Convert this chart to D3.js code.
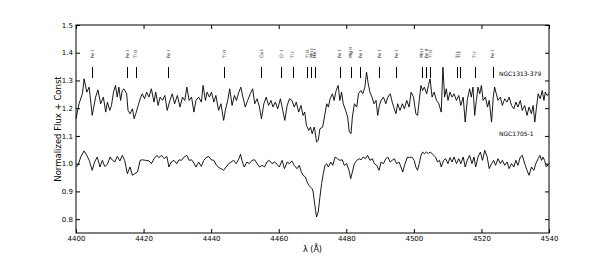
<!DOCTYPE html>
<html>
<head>
<meta charset="utf-8">
<script src="https://cdn.jsdelivr.net/npm/d3@7"></script>
<style>
  body { margin: 0; background: #fff; }
  svg text { font-family: "DejaVu Sans", sans-serif; fill: #000; }
</style>
</head>
<body>
<div class="chart"></div>
<script>
var svgWidth = 610;
var svgHeight = 259;
var margin = { top: 25, right: 61, bottom: 26, left: 76 };
var chartWidth = svgWidth - margin.left - margin.right;
var chartHeight = svgHeight - margin.top - margin.bottom;

// NGC1313-379 (upper spectrum)
var waveTop = [4400.0,4400.9,4401.9,4402.4,4403.2,4403.9,4404.8,4405.8,4406.5,4407.3,4408.1,4408.8,4409.3,4410.0,4410.5,4411.1,4411.7,4412.2,4412.7,4413.2,4413.7,4414.2,4415.0,4415.4,4416.0,4416.7,4417.2,4417.7,4418.4,4419.0,4419.6,4420.3,4420.9,4421.6,4422.3,4423.1,4423.6,4424.3,4424.9,4425.6,4426.3,4427.0,4427.8,4428.5,4429.2,4430.0,4430.8,4431.5,4432.2,4432.8,4433.5,4434.2,4434.9,4435.5,
  4436.3,4437.1,4437.6,4438.3,4438.8,4439.5,4440.1,4440.8,4441.4,4442.2,4442.9,4443.7,4444.2,4444.9,4445.5,4446.2,4446.9,4447.5,4448.2,4448.8,4449.4,4450.1,4450.8,4451.6,4452.3,4452.9,4453.6,4454.3,4454.9,4455.6,4456.3,4457.0,4457.7,4458.3,4459.0,4459.7,4460.5,4461.2,4461.8,4462.5,4463.2,4463.9,4464.6,4465.2,4465.9,4466.6,4467.2,4467.7,4468.2,4468.9,4469.4,4469.9,4470.5,
  4470.7,4471.2,4471.7,4472.2,4473.0,4473.7,4474.2,4474.7,4475.2,4475.9,4476.4,4477.0,4477.6,4478.1,4478.6,4479.1,4479.8,4480.4,4480.9,4481.4,4481.8,4482.4,4483.1,4483.6,4484.3,4484.9,4485.5,4486.0,4486.5,4487.0,4487.6,4488.2,4488.8,4489.3,4489.8,4490.3,4491.0,4491.7,4492.3,4493.0,4493.6,4494.2,4494.7,4495.2,4495.9,4496.6,4497.2,4497.9,4498.6,4499.2,4499.9,4500.6,4501.1,4501.6,4502.1,4502.6,4503.1,4503.8,4504.3,4504.8,4505.4,
  4506.0,4506.7,4507.4,4508.1,4508.6,4509.1,4509.6,4510.1,4510.7,4511.3,4511.9,4512.6,4513.3,4513.9,4514.6,4515.2,4515.8,4516.5,4517.0,4517.5,4518.0,4518.5,4519.0,4519.5,4520.0,4520.5,4521.2,4521.8,4522.3,4523.0,4523.5,4523.9,4524.4,4524.9,4525.6,4526.2,4526.9,4527.6,4528.2,4528.9,4529.6,4530.2,4530.8,4531.5,4532.1,4532.8,4533.5,4534.1,4534.8,4535.3,4535.8,4536.3,4536.8,4537.4,4538.0,4538.5,4538.9,4539.4,4540.0];
var fluxTop = [1.162,1.216,1.252,1.306,1.258,1.276,1.174,1.240,1.266,1.216,1.240,1.186,1.222,1.192,1.210,1.258,1.282,1.240,1.276,1.228,1.264,1.270,1.252,1.192,1.180,1.198,1.162,1.180,1.210,1.234,1.252,1.234,1.258,1.240,1.270,1.222,1.258,1.210,1.240,1.228,1.246,1.192,1.228,1.252,1.216,1.246,1.204,1.240,1.228,1.276,1.228,1.240,1.186,1.228,
  1.240,1.222,1.282,1.228,1.258,1.240,1.258,1.222,1.246,1.192,1.216,1.156,1.192,1.228,1.270,1.210,1.246,1.228,1.258,1.276,1.240,1.204,1.228,1.252,1.270,1.216,1.234,1.204,1.162,1.216,1.240,1.210,1.228,1.204,1.222,1.198,1.234,1.192,1.156,1.210,1.234,1.228,1.204,1.222,1.186,1.210,1.174,1.186,1.138,1.120,1.132,1.108,1.132,
  1.120,1.078,1.084,1.126,1.132,1.180,1.216,1.204,1.234,1.252,1.228,1.264,1.282,1.228,1.258,1.216,1.192,1.168,1.114,1.108,1.168,1.216,1.204,1.252,1.264,1.252,1.276,1.330,1.288,1.258,1.240,1.216,1.228,1.174,1.210,1.228,1.240,1.216,1.240,1.252,1.222,1.198,1.180,1.216,1.192,1.216,1.198,1.228,1.204,1.258,1.240,1.180,1.174,1.228,1.282,1.264,1.276,1.252,1.282,1.306,1.240,
  1.258,1.228,1.216,1.186,1.348,1.240,1.270,1.228,1.258,1.240,1.252,1.228,1.246,1.210,1.240,1.150,1.228,1.270,1.240,1.276,1.174,1.228,1.276,1.252,1.282,1.228,1.240,1.204,1.228,1.150,1.240,1.276,1.252,1.228,1.240,1.210,1.234,1.222,1.240,1.210,1.198,1.222,1.204,1.228,1.192,1.210,1.174,1.204,1.180,1.210,1.150,1.204,1.252,1.234,1.264,1.228,1.258,1.246,1.252];

// NGC1705-1 (lower spectrum)
var waveBot = [4400.0,4400.6,4401.4,4402.4,4403.2,4403.9,4404.8,4405.5,4406.3,4407.1,4407.8,4408.5,4409.3,4410.1,4410.8,4411.5,4412.2,4413.0,4413.7,4414.4,4415.2,4416.0,4416.7,4417.4,4418.2,4419.0,4419.6,4420.6,4421.6,4422.3,4423.1,4423.9,4424.6,4425.3,4426.1,4426.9,4427.5,4428.2,4429.0,4429.8,4430.5,4431.2,4432.0,4432.8,4433.5,4434.2,4434.9,4435.5,
  4436.3,4437.1,4437.8,4438.5,4439.3,4440.0,4440.8,4441.4,4442.2,4443.0,4443.7,4444.4,4445.2,4445.9,4446.7,4447.4,4448.2,4448.7,4449.1,4449.8,4450.6,4451.3,4452.1,4452.9,4453.6,4454.3,4455.1,4455.8,4456.5,4457.2,4458.0,4458.8,4459.5,4460.2,4461.0,4461.7,4462.5,4463.2,4463.9,4464.6,4465.4,4466.1,4466.7,4467.2,4467.9,4468.4,4468.9,4469.4,4469.9,
  4470.2,4470.5,4470.9,4471.2,4471.7,4472.2,4472.7,4473.2,4473.7,4474.2,4474.7,4475.4,4476.0,4476.7,4477.4,4478.1,4478.8,4479.4,4480.1,4480.8,4481.3,4481.8,4482.4,4483.1,4483.8,4484.4,4485.0,4485.7,4486.3,4487.0,4487.7,4488.3,4489.0,4489.7,4490.3,4491.0,4491.7,4492.3,4493.0,4493.6,4494.2,4494.9,4495.6,4496.2,4496.7,4497.4,4498.1,4498.7,4499.4,4500.1,4500.6,4501.1,4501.6,4502.1,4502.6,4503.1,4503.8,4504.3,4504.8,4505.4,
  4506.4,4507.0,4507.6,4508.1,4508.8,4509.4,4510.1,4510.7,4511.3,4511.9,4512.6,4513.3,4513.9,4514.6,4515.2,4515.8,4516.5,4517.2,4517.8,4518.3,4519.0,4519.7,4520.3,4521.0,4521.7,4522.3,4523.0,4523.6,4524.2,4524.9,4525.6,4526.2,4526.9,4527.6,4528.2,4528.9,4529.6,4530.2,4530.8,4531.5,4532.1,4532.8,4533.5,4534.1,4534.8,4535.5,4536.1,4536.8,4537.3,4537.8,4538.2,4538.7,4539.2,4540.0];
var fluxBot = [0.988,0.994,1.024,1.046,1.030,1.012,0.976,1.006,1.024,0.988,1.012,0.990,0.998,1.024,1.012,1.006,1.026,1.010,1.030,1.012,0.964,0.988,0.958,0.964,0.970,1.012,1.014,1.012,1.010,1.000,1.018,1.030,1.022,1.030,1.018,1.026,0.988,1.006,1.012,1.000,1.014,1.012,1.024,1.030,1.012,1.014,1.002,0.988,
  1.006,0.990,1.012,1.022,1.026,1.014,1.012,0.998,0.986,0.982,0.976,0.988,1.000,1.006,1.012,1.000,1.018,1.034,1.012,0.988,1.006,1.000,1.012,1.014,1.000,0.988,0.994,0.988,1.006,1.012,1.000,1.006,0.998,0.988,1.012,0.982,1.006,1.000,1.010,0.994,0.982,0.994,0.970,0.958,0.952,0.934,0.922,0.916,0.910,
  0.898,0.868,0.832,0.808,0.826,0.880,0.928,0.964,0.994,1.000,0.988,1.006,0.994,1.024,1.018,1.012,1.014,0.994,1.000,0.976,0.946,0.970,1.000,1.012,1.018,1.014,1.024,1.018,1.030,1.012,1.018,1.000,0.994,0.976,1.006,1.000,1.018,1.024,1.006,1.012,1.018,1.000,1.006,0.988,0.970,1.000,1.024,1.022,1.024,1.012,0.988,0.976,1.000,1.030,1.042,1.036,1.042,1.036,1.042,1.036,
  1.024,1.006,1.012,0.988,1.012,1.018,1.000,1.022,1.006,1.024,1.000,1.018,1.000,1.024,0.988,1.012,1.030,1.000,1.024,0.988,1.024,1.042,1.012,1.048,1.024,0.982,1.000,1.012,0.994,1.018,1.000,1.012,0.994,1.006,0.982,1.000,0.988,1.012,0.994,1.024,1.030,1.000,0.976,0.958,0.988,0.976,1.000,1.018,1.030,1.012,1.024,1.012,0.988,1.000];

// line identifications
var lineWave = [4404.8,4415.1,4417.7,4427.3,4443.8,4454.8,4460.8,4464.1,4468.5,4469.6,4470.7,4478.1,4481.3,4484.2,4489.8,4494.7,4502.3,4503.6,4504.8,4512.8,4513.6,4518.0,4523.3];
var lineName = ["Fe I","Fe I","Ti II","Fe I","Ti II","Ca I","Cr I","Ti I","Ti II","Mn I","He I","Fe I","Mg II","Fe I","Fe I","Fe I","Mn I","Fe II","Ti II","Ti I","Ti I","Ti I","Fe I"];

var xTicks = [4400,4420,4440,4460,4480,4500,4520,4540];
var yTicks = [0.8,0.9,1.0,1.1,1.2,1.3,1.4,1.5];

var svg = d3.select(".chart")
  .append("svg")
  .attr("width", svgWidth)
  .attr("height", svgHeight)
  .append("g")
  .attr("transform", "translate(" + margin.left + "," + margin.top + ")");

var x = d3.scaleLinear().domain([4400, 4540]).range([0, chartWidth]);
var y = d3.scaleLinear().domain([0.75, 1.5]).range([chartHeight, 0]);

var line = d3.line()
  .x(function(d) { return x(d[0]); })
  .y(function(d) { return y(d[1]); });

svg.append("path")
  .datum(d3.zip(waveTop, fluxTop))
  .attr("d", line)
  .attr("fill", "none")
  .attr("stroke", "#000")
  .attr("stroke-width", 0.9);

svg.append("path")
  .datum(d3.zip(waveBot, fluxBot))
  .attr("d", line)
  .attr("fill", "none")
  .attr("stroke", "#000")
  .attr("stroke-width", 0.9);

// line markers
var marks = svg.selectAll(".mark")
  .data(d3.zip(lineWave, lineName))
  .enter().append("g")
  .attr("class", "mark");

marks.append("line")
  .attr("x1", function(d) { return Math.round(x(d[0])) + 0.5; })
  .attr("x2", function(d) { return Math.round(x(d[0])) + 0.5; })
  .attr("y1", 42)
  .attr("y2", 53)
  .attr("stroke", "#000")
  .attr("stroke-width", 1);

marks.append("text")
  .attr("transform", function(d) {
    return "translate(" + (x(d[0]) + 1.6) + ",33) rotate(-90)";
  })
  .attr("font-size", "4.5px")
  .text(function(d) { return d[1]; });

svg.append("text")
  .attr("x", x(4525.2))
  .attr("y", y(1.316))
  .attr("font-size", "6px")
  .text("NGC1313-379");

svg.append("text")
  .attr("x", x(4525.2))
  .attr("y", y(1.101))
  .attr("font-size", "6px")
  .text("NGC1705-1");

// axes, ticks inward on all four sides
var xAxis = d3.axisBottom(x).tickValues(xTicks).tickSize(-4).tickPadding(3).tickFormat(d3.format("d"));
var yAxis = d3.axisLeft(y).tickValues(yTicks).tickSize(-4).tickPadding(3).tickFormat(d3.format(".1f"));

var gx = svg.append("g").attr("transform", "translate(0," + chartHeight + ")").call(xAxis);
var gy = svg.append("g").call(yAxis);
svg.append("g").call(d3.axisTop(x).tickValues(xTicks).tickSize(-4).tickFormat(""));
svg.append("g").attr("transform", "translate(" + chartWidth + ",0)")
  .call(d3.axisRight(y).tickValues(yTicks).tickSize(-4).tickFormat(""));

svg.selectAll(".domain").remove();
svg.selectAll(".tick line").attr("stroke", "#000");
gx.selectAll("text").attr("font-size", "7px").attr("font-family", "DejaVu Sans");
gy.selectAll("text").attr("font-size", "7px").attr("font-family", "DejaVu Sans");

svg.append("rect")
  .attr("x", 0).attr("y", 0)
  .attr("width", chartWidth).attr("height", chartHeight)
  .attr("fill", "none").attr("stroke", "#000").attr("stroke-width", 1);

svg.append("text")
  .attr("x", chartWidth / 2)
  .attr("y", chartHeight + 19)
  .attr("text-anchor", "middle")
  .attr("font-size", "8px")
  .text("λ (Å)");

svg.append("text")
  .attr("transform", "rotate(-90)")
  .attr("x", -chartHeight / 2)
  .attr("y", -15.5)
  .attr("text-anchor", "middle")
  .attr("font-size", "8.5px")
  .text("Normalized Flux + Const");
</script>
</body>
</html>
